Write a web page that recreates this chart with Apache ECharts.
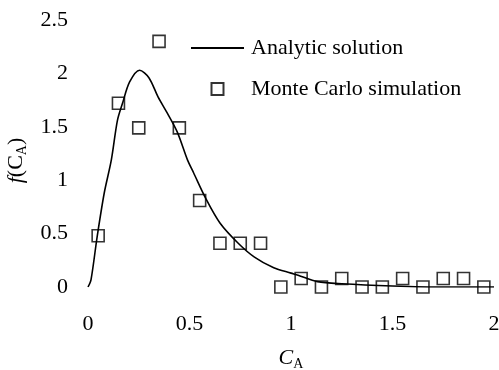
<!DOCTYPE html>
<html><head><meta charset="utf-8">
<script src="https://cdn.jsdelivr.net/npm/echarts@6/dist/echarts.min.js"></script>
<style>html,body{margin:0;padding:0;background:#fff}#c{width:499px;height:370px}</style>
</head><body><div id="c"></div>
<script>
// Analytic solution curve
const curveX = [0, 0.015, 0.045, 0.08, 0.115, 0.145, 0.17, 0.205, 0.254, 0.3, 0.345, 0.39, 0.44, 0.49, 0.52, 0.58, 0.65, 0.74, 0.82, 0.915, 1.0, 1.035, 1.13, 1.25, 1.5, 1.75, 2.0];
const curveY = [0, 0.07, 0.47, 0.88, 1.19, 1.56, 1.72, 1.92, 2.03, 1.96, 1.78, 1.63, 1.45, 1.19, 1.07, 0.83, 0.6, 0.41, 0.28, 0.18, 0.13, 0.11, 0.05, 0.03, 0.01, 0.0, 0.0];
// Monte Carlo simulation points
const mcX = [0.05, 0.15, 0.25, 0.35, 0.45, 0.55, 0.65, 0.75, 0.85, 0.95, 1.05, 1.15, 1.25, 1.35, 1.45, 1.55, 1.65, 1.75, 1.85, 1.95];
const mcY = [0.48, 1.72, 1.49, 2.30, 1.49, 0.81, 0.41, 0.41, 0.41, 0.0, 0.08, 0.0, 0.08, 0.0, 0.0, 0.08, 0.0, 0.08, 0.08, 0.0];
const xTicks = [0, 0.5, 1, 1.5, 2];
const yTicks = [0, 0.5, 1, 1.5, 2, 2.5];

const font = 'Liberation Serif';
const chart = echarts.init(document.getElementById('c'), null, {renderer: 'canvas'});
chart.setOption({
  animation: false,
  backgroundColor: '#fff',
  textStyle: {fontFamily: font, color: '#000'},
  grid: {left: 88, right: 5, top: 20, bottom: 83, outerBoundsMode: 'none', containLabel: false},
  legend: {
    orient: 'vertical', left: 185, top: 32, itemGap: 19,
    itemWidth: 53, itemHeight: 12, symbolKeepAspect: true,
    textStyle: {fontFamily: font, fontSize: 22, color: '#000', padding: [0, 0, 0, 2]},
    data: [
      {name: 'Analytic solution', itemStyle: {opacity: 0}},
      {name: 'Monte Carlo simulation', icon: 'path://M0,0H12V12H0Z'}
    ]
  },
  xAxis: {
    type: 'value', min: 0, max: 2, interval: 0.5,
    axisLine: {show: false}, axisTick: {show: false}, splitLine: {show: false},
    axisLabel: {fontFamily: font, fontSize: 22, color: '#000', margin: 26,
      formatter: v => xTicks.includes(v) ? String(v) : ''},
    name: '{c|C}{s|A}', nameLocation: 'middle', nameGap: 58,
    nameTextStyle: {rich: {c: {fontFamily: font, fontSize: 22, color: '#000', fontStyle: 'italic'}, s: {fontFamily: font, fontSize: 14, color: '#000', verticalAlign: 'bottom', padding: [12, 0, 0, 0]}}}
  },
  yAxis: {
    type: 'value', min: 0, max: 2.5, interval: 0.5,
    axisLine: {show: false}, axisTick: {show: false}, splitLine: {show: false},
    axisLabel: {fontFamily: font, fontSize: 22, color: '#000', margin: 20,
      formatter: v => yTicks.includes(v) ? String(v) : ''},
    name: '{f|f}{p|(C}{s|A}{p|)}', nameLocation: 'middle', nameGap: 58, nameRotate: 90,
    nameTextStyle: {padding: [0, 14, 0, 0], rich: {f: {fontFamily: font, fontSize: 22, color: '#000', fontStyle: 'italic'}, p: {fontFamily: font, fontSize: 22, color: '#000'}, s: {fontFamily: font, fontSize: 14, color: '#000', verticalAlign: 'bottom', padding: [12, 0, 0, 0]}}}
  },
  series: [
    {
      name: 'Analytic solution', type: 'line', symbol: 'none', smooth: 0.3,
      lineStyle: {color: '#000', width: 1.6},
      itemStyle: {color: '#000'},
      data: curveX.map((x, i) => [x, curveY[i]])
    },
    {
      name: 'Monte Carlo simulation', type: 'scatter', symbol: 'rect', symbolSize: 12,
      itemStyle: {color: 'rgba(255,255,255,0)', borderColor: '#000', borderWidth: 1.6},
      data: mcX.map((x, i) => [x, mcY[i]])
    }
  ]
});
</script></body></html>
